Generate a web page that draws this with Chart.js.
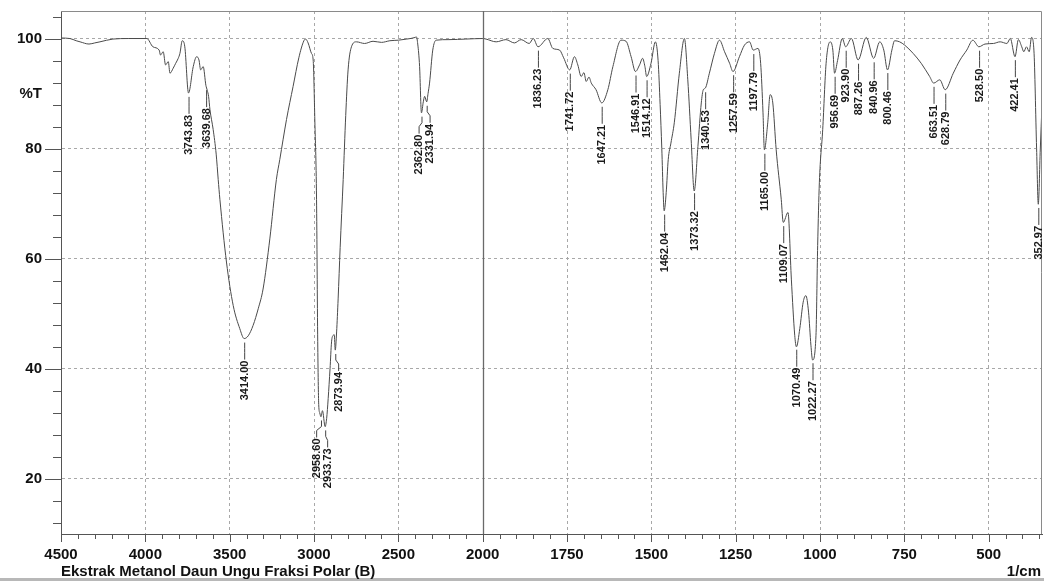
<!DOCTYPE html>
<html>
<head>
<meta charset="utf-8">
<script src="https://cdn.jsdelivr.net/npm/chart.js@4.4.1/dist/chart.umd.min.js"></script>
<style>
  html, body { margin: 0; padding: 0; background: #fff; }
  #wrap { width: 1044px; height: 581px; }
</style>
</head>
<body>
<div id="wrap"><canvas id="irChart" width="1044" height="581"></canvas></div>
<script>
// spectrum: wavenumber (1/cm) and %T
const wavenumbers = [
  4500, 4447, 4410, 4387, 4334, 4300, 4269, 4192, 4100, 3991,
  3955, 3918, 3910, 3894, 3880, 3864, 3854, 3835, 3820, 3805,
  3795, 3781, 3766, 3744, 3716, 3696, 3682, 3672, 3657, 3641,
  3633, 3625, 3617, 3598, 3580, 3568, 3558, 3519, 3479, 3440,
  3414, 3390, 3361, 3330, 3302, 3262, 3223, 3203, 3163, 3124,
  3090, 3060, 3050, 3035, 3015, 3005, 2995, 2985, 2978, 2972,
  2966, 2959, 2950, 2934, 2925, 2916, 2905, 2896, 2886, 2880,
  2874, 2866, 2857, 2845, 2827, 2812, 2798, 2778, 2749, 2700,
  2650, 2600, 2550, 2500, 2450, 2400, 2393, 2385, 2374, 2363,
  2352, 2344, 2332, 2324, 2315, 2296, 2276, 2200, 2100, 2000,
  1990, 1960, 1931, 1906, 1886, 1862, 1850, 1836, 1807, 1792,
  1772, 1760, 1742, 1728, 1718, 1708, 1700, 1693, 1685, 1678,
  1664, 1647, 1629, 1614, 1590, 1575, 1560, 1547, 1535, 1526,
  1519, 1514, 1501, 1488, 1480, 1474, 1469, 1465, 1462, 1456,
  1450, 1442, 1432, 1417, 1402, 1392, 1382, 1373, 1362, 1352,
  1346, 1340, 1328, 1313, 1298, 1283, 1268, 1258, 1239, 1224,
  1209, 1198, 1184, 1176, 1169, 1165, 1155, 1148, 1140, 1130,
  1115, 1109, 1095, 1085, 1075, 1070, 1060, 1050, 1042, 1034,
  1027, 1022, 1012, 1007, 1002, 992, 982, 970, 962, 957,
  948, 934, 924, 907, 887, 863, 841, 823, 811, 800,
  787, 779, 764, 749, 724, 700, 675, 663, 645, 629,
  605, 585, 565, 547, 529, 511, 486, 466, 446, 436,
  422, 412, 402, 396, 388, 380, 373, 366, 358, 353,
  347, 342
];
const transmittance = [
  100.1, 100.0, 99.6, 99.4, 99.0, 99.2, 99.4, 99.9, 100.0, 100.0,
  98.5, 97.9, 97.0, 97.6, 95.2, 95.8, 93.7, 94.6, 95.5, 96.4,
  97.3, 99.6, 98.5, 90.1, 94.9, 96.7, 96.1, 94.3, 94.9, 91.5,
  90.6, 89.5, 87.1, 83.5, 79.0, 74.4, 70.8, 59.4, 51.5, 47.3,
  45.5, 46.0, 47.9, 51.0, 54.5, 63.6, 74.4, 78.0, 85.3, 91.3,
  96.5, 99.6, 99.9, 99.2, 97.3, 96.1, 85.0, 70.8, 45.0, 33.5,
  32.0, 31.3, 32.4, 29.5, 31.0, 34.6, 40.0, 44.9, 46.1, 46.2,
  43.4, 46.7, 52.7, 62.0, 74.4, 86.0, 94.3, 98.5, 99.4, 99.1,
  99.5, 99.3, 99.6, 99.7, 99.9, 100.2, 100.3, 99.0, 94.9, 86.5,
  88.5, 89.5, 88.5, 90.0, 91.9, 97.9, 99.7, 99.8, 99.9, 100.0,
  99.9, 99.4, 99.8, 99.2, 99.8, 99.1, 100.0, 98.5, 100.0, 98.2,
  97.9, 96.5, 94.3, 96.7, 95.2, 93.1, 93.8, 92.2, 93.0, 91.9,
  90.7, 88.3, 90.7, 94.9, 99.7, 99.5, 96.7, 94.0, 95.2, 96.4,
  94.9, 93.1, 95.5, 99.4, 96.0, 88.0, 80.0, 72.0, 68.7, 72.0,
  78.0, 81.0, 84.7, 93.7, 100.0, 92.5, 81.6, 72.3, 80.4, 88.3,
  90.7, 91.0, 93.7, 97.3, 99.7, 97.6, 95.5, 94.0, 96.7, 98.8,
  99.4, 97.9, 98.2, 95.5, 86.5, 79.8, 84.7, 89.8, 88.3, 79.8,
  70.8, 66.6, 68.4, 56.3, 46.1, 44.0, 47.3, 52.1, 53.3, 50.3,
  44.3, 41.6, 46.1, 62.4, 73.8, 83.5, 95.5, 99.4, 97.9, 93.7,
  96.0, 100.0, 98.5, 100.0, 96.1, 100.2, 96.4, 99.4, 97.9, 94.3,
  97.9, 99.6, 99.4, 98.8, 97.3, 95.5, 93.1, 91.9, 92.5, 90.7,
  93.7, 96.1, 97.9, 99.7, 98.5, 99.0, 99.1, 99.4, 99.1, 100.0,
  96.7, 99.8, 98.5, 97.6, 98.5, 97.6, 100.2, 97.9, 80.0, 69.9,
  80.0, 88.0
];
// labelled peaks (1/cm)
const peaks = [
  3743.83, 3639.68, 3414.00, 2958.60, 2933.73, 2873.94, 2362.80, 2331.94,
  1836.23, 1741.72, 1647.21, 1546.91, 1514.12, 1462.04, 1373.32, 1340.53,
  1257.59, 1197.79, 1165.00, 1109.07, 1070.49, 1022.27, 956.69, 923.90,
  887.26, 840.96, 800.46, 663.51, 628.79, 528.50, 422.41, 352.97
];
const xTickLabels = [4500, 4000, 3500, 3000, 2500, 2000, 1750, 1500, 1250, 1000, 750, 500];
const yTickLabels = [20, 40, 60, 80, 100];

const FONT = '"Liberation Sans", Arial, sans-serif';

// the x axis changes scale at 2000: 500 per division above, 250 per division below
function toPos(w) { return w >= 2000 ? (4500 - w) / 500 : 5 + (2000 - w) / 250; }
function fromPos(p) { return p <= 5 ? 4500 - p * 500 : 2000 - (p - 5) * 250; }

function interpT(w) {
  for (let i = 1; i < wavenumbers.length; i++) {
    if (wavenumbers[i] <= w) {
      const a = wavenumbers[i - 1], b = wavenumbers[i];
      const t = (a - w) / (a - b);
      return transmittance[i - 1] + t * (transmittance[i] - transmittance[i - 1]);
    }
  }
  return transmittance[transmittance.length - 1];
}

const isMajorX = p => Math.abs(p - Math.round(p)) < 1e-6;

const decorations = {
  id: 'decorations',
  beforeDraw(chart) {
    const ctx = chart.ctx;
    ctx.save();
    ctx.fillStyle = '#b8b8b8';
    ctx.fillRect(0, 578, chart.width, 3);
    ctx.restore();
  },
  afterDraw(chart) {
    const {ctx, chartArea: a} = chart;
    const xs = chart.scales.x, ys = chart.scales.y;
    ctx.save();

    // frame top + right
    ctx.strokeStyle = '#8a8a8a';
    ctx.lineWidth = 1;
    ctx.beginPath();
    ctx.moveTo(a.left, a.top + 0.5);
    ctx.lineTo(a.right - 0.5, a.top + 0.5);
    ctx.lineTo(a.right - 0.5, a.bottom);
    ctx.stroke();

    // solid divider where the scale changes
    const x2000 = Math.round(xs.getPixelForValue(toPos(2000))) + 0.5;
    ctx.strokeStyle = '#6a6a6a';
    ctx.lineWidth = 1.3;
    ctx.beginPath();
    ctx.moveTo(x2000, a.top);
    ctx.lineTo(x2000, a.bottom);
    ctx.stroke();

    // tick marks
    ctx.strokeStyle = '#555';
    ctx.lineWidth = 1;
    ctx.beginPath();
    ys.ticks.forEach(t => {
      const y = Math.round(ys.getPixelForValue(t.value)) + 0.5;
      const len = yTickLabels.includes(t.value) ? 16 : 8;
      ctx.moveTo(a.left - len, y);
      ctx.lineTo(a.left, y);
    });
    xs.ticks.forEach(t => {
      const x = Math.round(xs.getPixelForValue(t.value)) + 0.5;
      const len = isMajorX(t.value) ? 8 : 5;
      ctx.moveTo(x, a.bottom);
      ctx.lineTo(x, a.bottom + len);
    });
    ctx.stroke();

    // axis captions
    ctx.fillStyle = '#111';
    ctx.font = 'bold 15px ' + FONT;
    ctx.textAlign = 'right';
    ctx.textBaseline = 'middle';
    ctx.fillText('%T', 42, ys.getPixelForValue(90));
    ctx.fillText('1/cm', 1041, 572);

    // peak labels
    const items = peaks.map(w => {
      const px = xs.getPixelForValue(toPos(w));
      const py = ys.getPixelForValue(interpT(w));
      return {w, px, py, lx: px};
    });
    for (let k = 0; k < 30; k++) {
      for (let i = 1; i < items.length; i++) {
        const d = items[i].lx - items[i - 1].lx;
        if (d < 11) {
          const s = (11 - d) / 2;
          items[i - 1].lx -= s;
          items[i].lx += s;
        }
      }
    }
    ctx.strokeStyle = '#444';
    ctx.lineWidth = 1;
    ctx.font = 'bold 11px ' + FONT;
    ctx.fillStyle = '#1a1a1a';
    items.forEach(it => {
      ctx.beginPath();
      ctx.moveTo(it.px + 0.5, it.py + 4);
      ctx.lineTo(it.px + 0.5, it.py + 10);
      ctx.lineTo(it.lx + 0.5, it.py + 14);
      ctx.lineTo(it.lx + 0.5, it.py + 21);
      ctx.stroke();
      ctx.save();
      ctx.translate(it.lx + 0.5, it.py + 22);
      ctx.rotate(-Math.PI / 2);
      ctx.textAlign = 'right';
      ctx.textBaseline = 'middle';
      ctx.fillText(it.w.toFixed(2), 0, 0);
      ctx.restore();
    });
    ctx.restore();
  }
};

const points = wavenumbers.map((w, i) => ({x: toPos(w), y: transmittance[i]}));

new Chart(document.getElementById('irChart'), {
  type: 'line',
  data: {
    datasets: [{
      data: points,
      borderColor: '#4a4a4a',
      borderWidth: 1,
      pointRadius: 0,
      fill: false,
      cubicInterpolationMode: 'monotone'
    }]
  },
  options: {
    responsive: false,
    animation: false,
    devicePixelRatio: 1,
    layout: {padding: {top: 11, right: 2, left: 0, bottom: 0}},
    plugins: {legend: {display: false}, tooltip: {enabled: false}},
    scales: {
      x: {
        type: 'linear',
        min: 0,
        max: toPos(342),
        afterBuildTicks: scale => {
          const ticks = [];
          for (let i = 0; i <= 58; i++) ticks.push({value: i / 5});
          scale.ticks = ticks;
        },
        afterFit: scale => {
          scale.height = 47;
          scale.paddingLeft = 0;
          scale.paddingRight = 0;
        },
        grid: {
          drawTicks: false,
          color: c => {
            const v = c.tick ? c.tick.value : 0;
            if (!isMajorX(v) || v < 0.5 || Math.abs(v - 5) < 1e-6) return 'transparent';
            return '#a8a8a8';
          },
          lineWidth: 1
        },
        border: {display: true, color: '#555', width: 1, dash: [3, 3]},
        ticks: {
          autoSkip: false,
          maxRotation: 0,
          padding: 12,
          color: '#111',
          font: {family: FONT, size: 15, weight: 'bold'},
          callback: v => {
            if (!isMajorX(v)) return '';
            const w = Math.round(fromPos(v));
            return xTickLabels.includes(w) ? String(w) : '';
          }
        },
        title: {
          display: true,
          text: 'Ekstrak Metanol Daun Ungu Fraksi Polar (B)',
          align: 'start',
          color: '#111',
          font: {family: FONT, size: 15, weight: 'bold'},
          padding: {top: 0, bottom: 0}
        }
      },
      y: {
        type: 'linear',
        min: 10,
        max: 105,
        afterBuildTicks: scale => {
          const ticks = [];
          for (let v = 12; v <= 104; v += 4) ticks.push({value: v});
          scale.ticks = ticks;
        },
        afterFit: scale => {
          scale.width = 61;
          scale.paddingTop = 0;
          scale.paddingBottom = 0;
        },
        grid: {
          drawTicks: false,
          color: c => (c.tick && yTickLabels.includes(c.tick.value)) ? '#a8a8a8' : 'transparent',
          lineWidth: 1
        },
        border: {display: true, color: '#555', width: 1, dash: [3, 3]},
        ticks: {
          autoSkip: false,
          padding: 19,
          color: '#111',
          font: {family: FONT, size: 15, weight: 'bold'},
          callback: v => yTickLabels.includes(v) ? String(v) : ''
        }
      }
    }
  },
  plugins: [decorations]
});
</script>
</body>
</html>
